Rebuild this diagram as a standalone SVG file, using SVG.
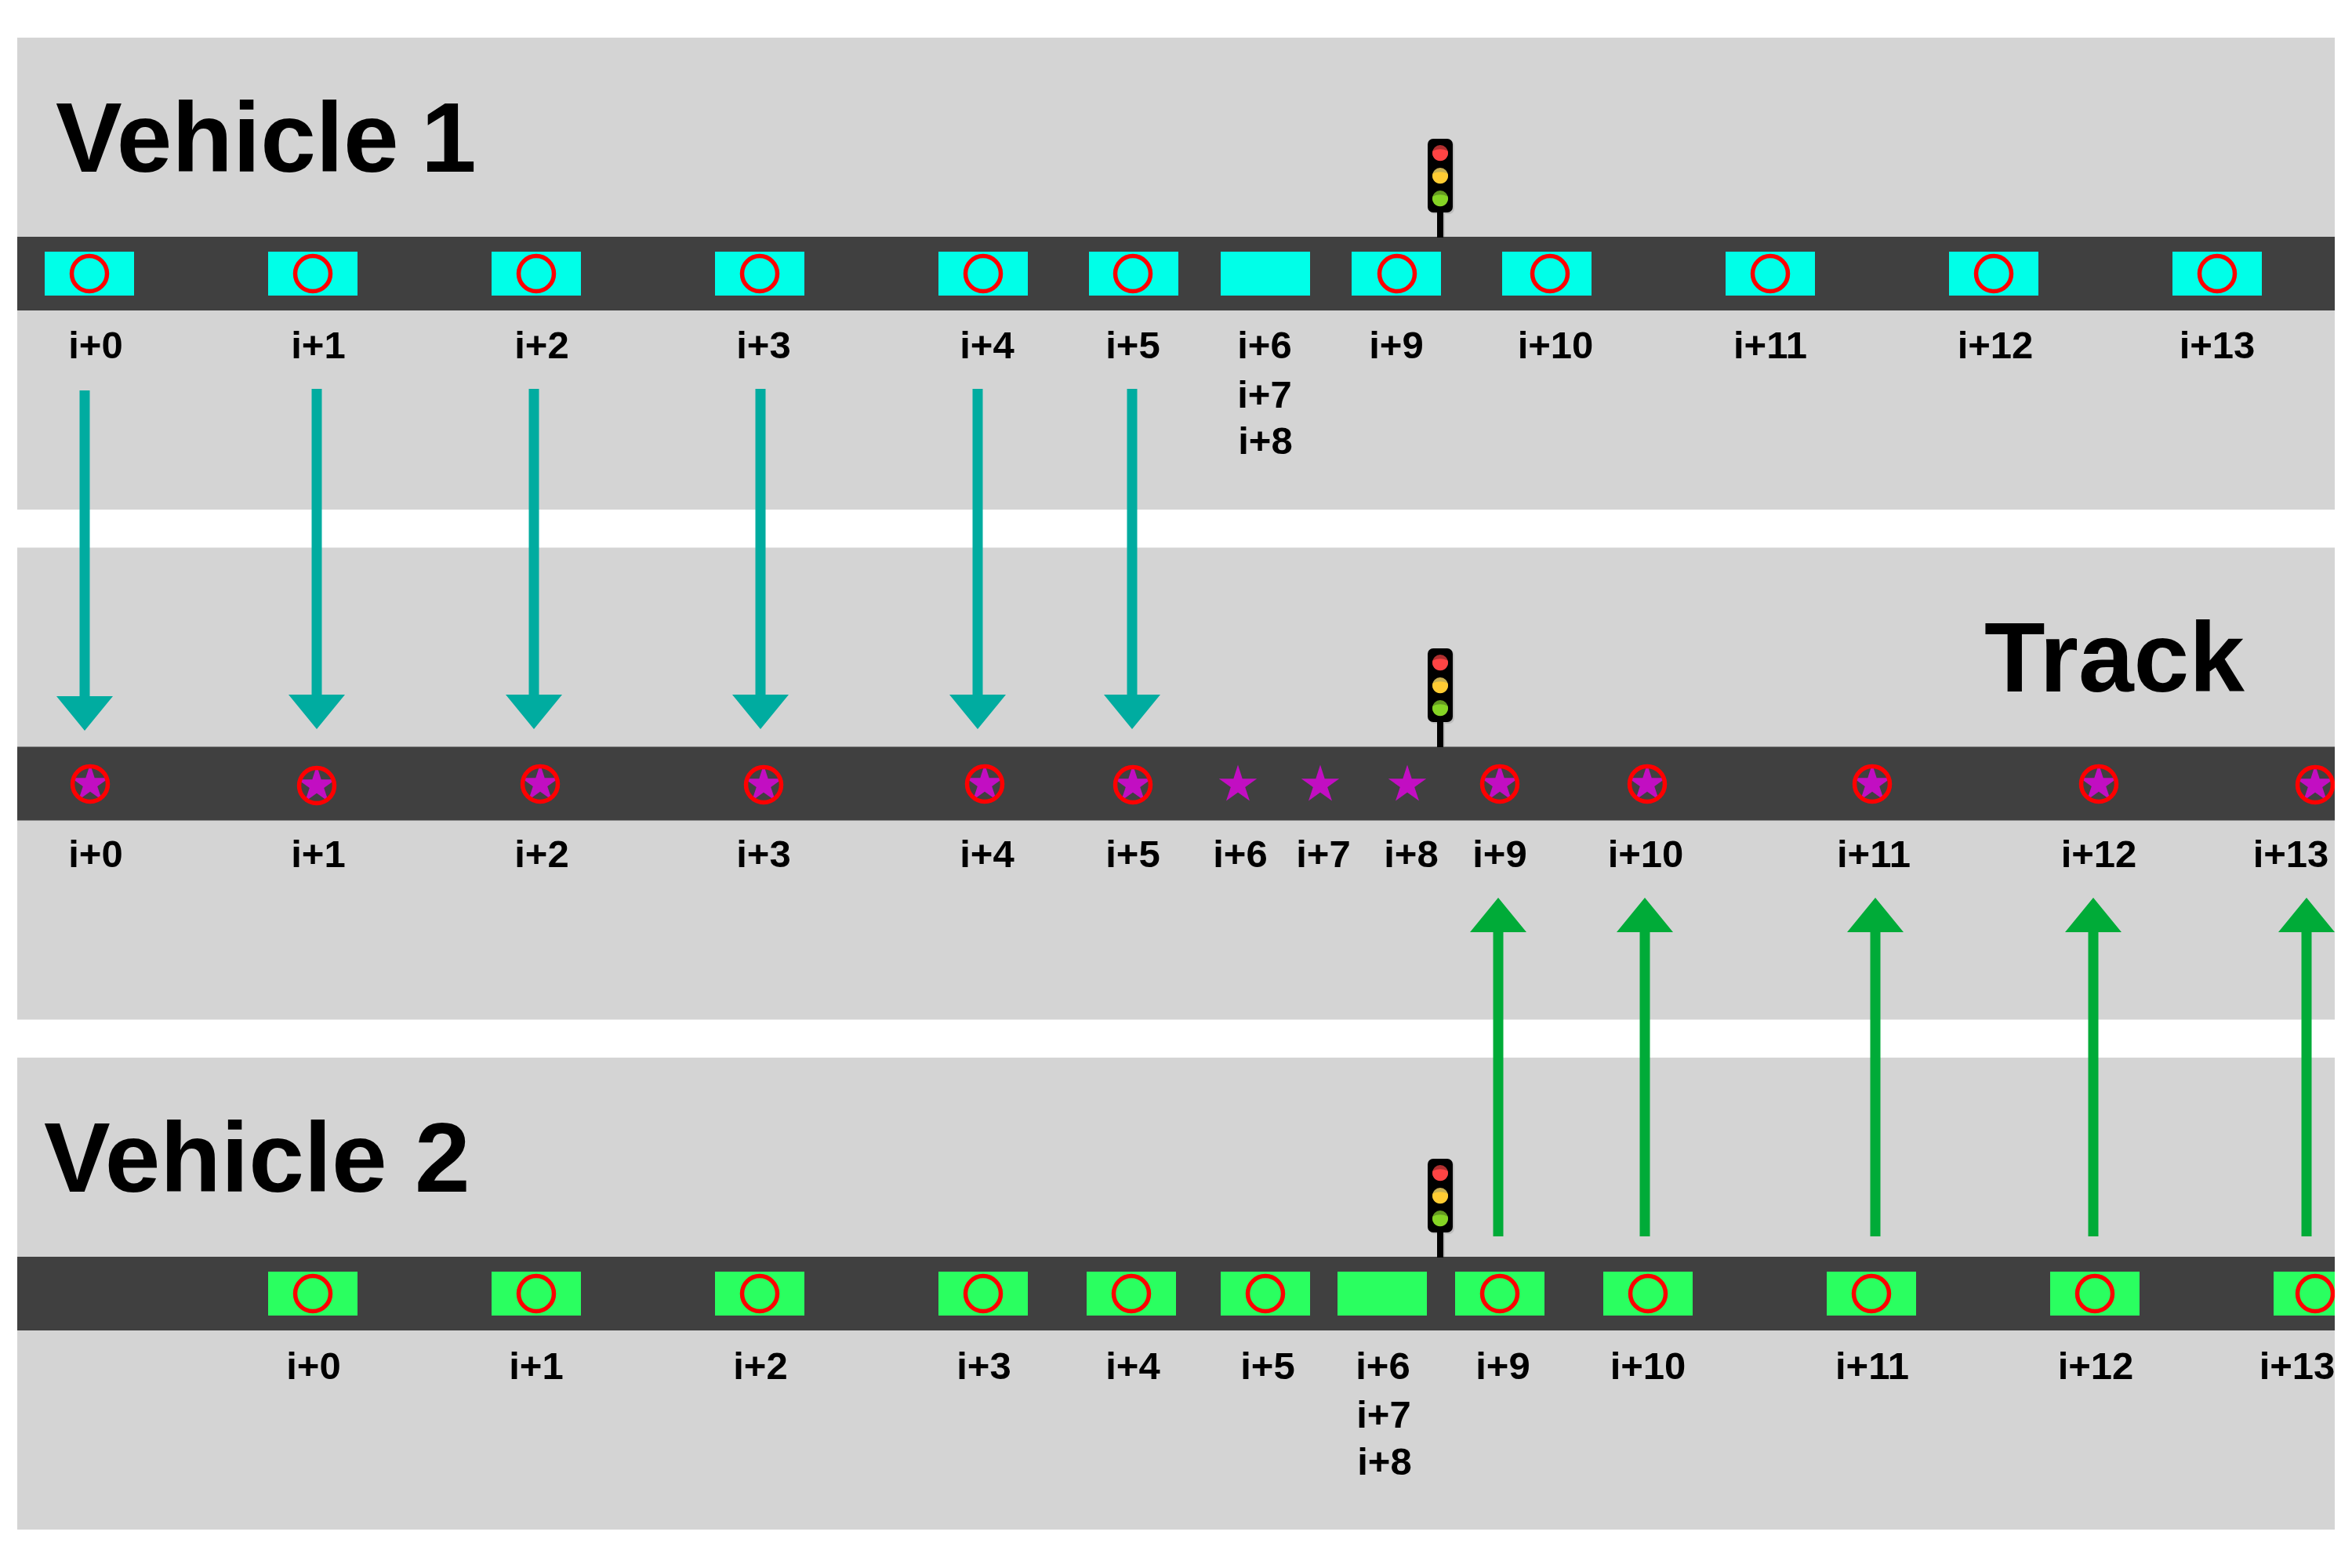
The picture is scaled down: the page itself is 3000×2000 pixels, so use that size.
<svg xmlns="http://www.w3.org/2000/svg" xmlns:xlink="http://www.w3.org/1999/xlink" width="3000" height="2000" viewBox="0 0 3000 2000">
<style>
.panel{fill:#d4d4d4}
.road{fill:#404040}
.cy{fill:#00ffe8}
.gr{fill:#2aff60}
.ring{fill:none;stroke:#ff0000;stroke-width:5.5}
.star{fill:#c20ec2}
.lab{font:bold 49px "Liberation Sans",Arial,sans-serif;fill:#000;text-anchor:middle}
.title{font:bold 127px "Liberation Sans",Arial,sans-serif;fill:#000}
.teal{fill:#00aca0}
.green{fill:#00ab38}
</style>
<defs>
<clipPath id="frame"><rect x="22" y="0" width="2956" height="2000"/></clipPath>
<path id="s" d="M0,-25.4 L5.7,-7.8 L24.2,-7.8 L9.2,3 L15,20.5 L0,9.7 L-15,20.5 L-9.2,3 L-24.2,-7.8 L-5.7,-7.8 Z"/>
<path id="ad" d="M-6.5,-390 H6.5 V0 H36 L0,44 L-36,0 H-6.5 Z"/>
<path id="au" d="M-36,44 L0,0 L36,44 H6.5 V432 H-6.5 V44 Z"/>
<g id="sig">
<rect x="1823" y="179" width="32" height="94" rx="7" fill="#bdbdbd"/>
<rect x="1835" y="271" width="8" height="31" fill="#bdbdbd"/>
<rect x="1821" y="177" width="32" height="94" rx="7" fill="#000"/>
<rect x="1833" y="271" width="8" height="32" fill="#000"/>
<circle cx="1837" cy="195" r="10" fill="#b03030"/>
<path d="M1827.4,192.5 Q1837,188 1846.6,192.5 A10,10 0 1 1 1827.4,192.5 Z" fill="#ff4444"/>
<circle cx="1837" cy="224" r="10" fill="#c8b050"/>
<path d="M1827.4,221.5 Q1837,217 1846.6,221.5 A10,10 0 1 1 1827.4,221.5 Z" fill="#ffcc33"/>
<circle cx="1837" cy="253" r="10" fill="#649a20"/>
<path d="M1827.4,250.5 Q1837,246 1846.6,250.5 A10,10 0 1 1 1827.4,250.5 Z" fill="#85d425"/>
</g>
</defs>
<rect width="3000" height="2000" fill="#fff"/>
<g id="vehicle1">
<rect class="panel" x="22" y="48" width="2956" height="602"/>
<rect class="road" x="22" y="302" width="2956" height="94"/>
<text class="title" x="71" y="219" word-spacing="-7">Vehicle 1</text>
<use xlink:href="#sig" href="#sig"/>
<g class="cy">
<rect x="57" y="321" width="114" height="56"/><rect x="342" y="321" width="114" height="56"/><rect x="627" y="321" width="114" height="56"/><rect x="912" y="321" width="114" height="56"/><rect x="1197" y="321" width="114" height="56"/><rect x="1389" y="321" width="114" height="56"/><rect x="1557" y="321" width="114" height="56"/><rect x="1724" y="321" width="114" height="56"/><rect x="1916" y="321" width="114" height="56"/><rect x="2201" y="321" width="114" height="56"/><rect x="2486" y="321" width="114" height="56"/><rect x="2771" y="321" width="114" height="56"/>
</g>
<g class="ring">
<circle cx="114" cy="349" r="22.5"/><circle cx="399" cy="349" r="22.5"/><circle cx="684" cy="349" r="22.5"/><circle cx="969" cy="349" r="22.5"/><circle cx="1254" cy="349" r="22.5"/><circle cx="1445" cy="349" r="22.5"/><circle cx="1782" cy="349" r="22.5"/><circle cx="1977" cy="349" r="22.5"/><circle cx="2258" cy="349" r="22.5"/><circle cx="2543" cy="349" r="22.5"/><circle cx="2828" cy="349" r="22.5"/>
</g>
<g class="lab">
<text x="122" y="457">i+0</text><text x="406" y="457">i+1</text><text x="691" y="457">i+2</text><text x="974" y="457">i+3</text><text x="1259" y="457">i+4</text><text x="1445" y="457">i+5</text><text x="1613" y="457">i+6</text><text x="1613" y="520">i+7</text><text x="1614" y="579">i+8</text><text x="1781" y="457">i+9</text><text x="1984" y="457">i+10</text><text x="2258" y="457">i+11</text><text x="2545" y="457">i+12</text><text x="2828" y="457">i+13</text>
</g>
</g>
<g id="track" clip-path="url(#frame)">
<rect class="panel" x="22" y="698.5" width="2956" height="602"/>
<rect class="road" x="22" y="952.5" width="2956" height="94"/>
<text class="title" x="2531" y="882">Track</text>
<use xlink:href="#sig" href="#sig" y="650"/>
<g class="star">
<use xlink:href="#s" href="#s" x="115" y="1000"/><use xlink:href="#s" href="#s" x="404" y="1002"/><use xlink:href="#s" href="#s" x="689" y="1000"/><use xlink:href="#s" href="#s" x="974" y="1001"/><use xlink:href="#s" href="#s" x="1256" y="1000"/><use xlink:href="#s" href="#s" x="1445" y="1001"/><use xlink:href="#s" href="#s" x="1579" y="1001"/><use xlink:href="#s" href="#s" x="1684" y="1001"/><use xlink:href="#s" href="#s" x="1795" y="1001"/><use xlink:href="#s" href="#s" x="1913" y="1000"/><use xlink:href="#s" href="#s" x="2101" y="1000"/><use xlink:href="#s" href="#s" x="2388" y="1000"/><use xlink:href="#s" href="#s" x="2677" y="1000"/><use xlink:href="#s" href="#s" x="2953" y="1001"/>
</g>
<g class="ring">
<circle cx="115" cy="1000" r="22.5"/><circle cx="404" cy="1002" r="22.5"/><circle cx="689" cy="1000" r="22.5"/><circle cx="974" cy="1001" r="22.5"/><circle cx="1256" cy="1000" r="22.5"/><circle cx="1445" cy="1001" r="22.5"/><circle cx="1913" cy="1000" r="22.5"/><circle cx="2101" cy="1000" r="22.5"/><circle cx="2388" cy="1000" r="22.5"/><circle cx="2677" cy="1000" r="22.5"/><circle cx="2953" cy="1001" r="22.5"/>
</g>
<g class="lab">
<text x="122" y="1106">i+0</text><text x="406" y="1106">i+1</text><text x="691" y="1106">i+2</text><text x="974" y="1106">i+3</text><text x="1259" y="1106">i+4</text><text x="1445" y="1106">i+5</text><text x="1582" y="1106">i+6</text><text x="1688" y="1106">i+7</text><text x="1800" y="1106">i+8</text><text x="1913" y="1106">i+9</text><text x="2099" y="1106">i+10</text><text x="2390" y="1106">i+11</text><text x="2677" y="1106">i+12</text><text x="2922" y="1106">i+13</text>
</g>
</g>
<g id="vehicle2" clip-path="url(#frame)">
<rect class="panel" x="22" y="1349" width="2956" height="602"/>
<rect class="road" x="22" y="1603" width="2956" height="94"/>
<text class="title" x="56" y="1520">Vehicle 2</text>
<use xlink:href="#sig" href="#sig" y="1301"/>
<g class="gr">
<rect x="342" y="1622" width="114" height="56"/><rect x="627" y="1622" width="114" height="56"/><rect x="912" y="1622" width="114" height="56"/><rect x="1197" y="1622" width="114" height="56"/><rect x="1386" y="1622" width="114" height="56"/><rect x="1557" y="1622" width="114" height="56"/><rect x="1706" y="1622" width="114" height="56"/><rect x="1856" y="1622" width="114" height="56"/><rect x="2045" y="1622" width="114" height="56"/><rect x="2330" y="1622" width="114" height="56"/><rect x="2615" y="1622" width="114" height="56"/><rect x="2900" y="1622" width="114" height="56"/>
</g>
<g class="ring">
<circle cx="399" cy="1650" r="22.5"/><circle cx="684" cy="1650" r="22.5"/><circle cx="969" cy="1650" r="22.5"/><circle cx="1254" cy="1650" r="22.5"/><circle cx="1443" cy="1650" r="22.5"/><circle cx="1614" cy="1650" r="22.5"/><circle cx="1913" cy="1650" r="22.5"/><circle cx="2102" cy="1650" r="22.5"/><circle cx="2387" cy="1650" r="22.5"/><circle cx="2672" cy="1650" r="22.5"/><circle cx="2953" cy="1650" r="22.5"/>
</g>
<g class="lab">
<text x="400" y="1759">i+0</text><text x="684" y="1759">i+1</text><text x="970" y="1759">i+2</text><text x="1255" y="1759">i+3</text><text x="1445" y="1759">i+4</text><text x="1617" y="1759">i+5</text><text x="1764" y="1759">i+6</text><text x="1765" y="1821">i+7</text><text x="1766" y="1881">i+8</text><text x="1917" y="1759">i+9</text><text x="2102" y="1759">i+10</text><text x="2388" y="1759">i+11</text><text x="2673" y="1759">i+12</text><text x="2930" y="1759">i+13</text>
</g>
</g>
<g id="connectors">
<g class="teal">
<use xlink:href="#ad" href="#ad" x="108" y="888"/><use xlink:href="#ad" href="#ad" x="404" y="886"/><use xlink:href="#ad" href="#ad" x="681" y="886"/><use xlink:href="#ad" href="#ad" x="970" y="886"/><use xlink:href="#ad" href="#ad" x="1247" y="886"/><use xlink:href="#ad" href="#ad" x="1444" y="886"/>
</g>
<g class="green">
<use xlink:href="#au" href="#au" x="1911" y="1145"/><use xlink:href="#au" href="#au" x="2098" y="1145"/><use xlink:href="#au" href="#au" x="2392" y="1145"/><use xlink:href="#au" href="#au" x="2670" y="1145"/><use xlink:href="#au" href="#au" x="2942" y="1145"/>
</g>
</g>
</svg>
